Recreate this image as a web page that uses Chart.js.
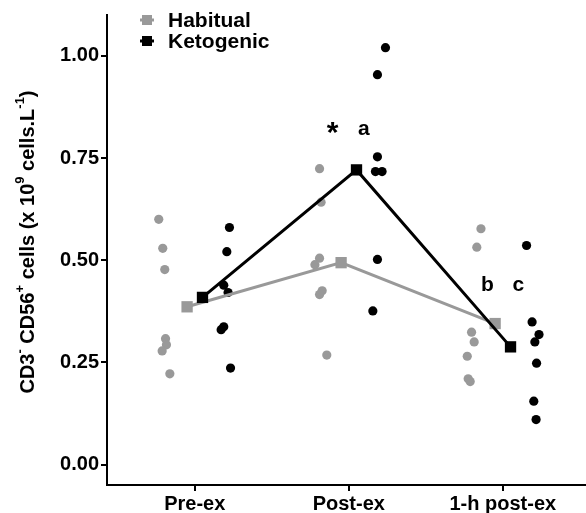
<!DOCTYPE html>
<html>
<head>
<meta charset="utf-8">
<script src="https://cdn.jsdelivr.net/npm/chart.js@4.4.1/dist/chart.umd.min.js"></script>
<style>
  body { margin: 0; background: #fff; }
  #wrap { width: 586px; height: 513px; position: relative; }
</style>
</head>
<body>
<div id="wrap"><canvas id="myChart"></canvas></div>
<script>
const categories = ["Pre-ex", "Post-ex", "1-h post-ex"]
const yTicks = [0, 0.25, 0.5, 0.75, 1.0]
const seriesNames = ["Habitual", "Ketogenic"]

// group means
const habitualMeans = [0.386, 0.494, 0.345]
const ketogenicMeans = [0.409, 0.721, 0.288]

// individual values per time point
const habitualPre = [0.600, 0.529, 0.477, 0.308, 0.293, 0.278, 0.222]
const habitualPost = [0.724, 0.642, 0.505, 0.489, 0.425, 0.416, 0.268]
const habitual1h = [0.577, 0.532, 0.324, 0.300, 0.265, 0.210, 0.203]
const ketogenicPre = [0.580, 0.521, 0.439, 0.421, 0.337, 0.330, 0.236]
const ketogenicPost = [1.020, 0.954, 0.753, 0.717, 0.717, 0.502, 0.376]
const ketogenic1h = [0.536, 0.349, 0.318, 0.300, 0.248, 0.155, 0.110]

// horizontal jitter of the individual points
const habitualJitter = [
    [-0.234, -0.208, -0.195, -0.19, -0.184, -0.212, -0.162],
    [-0.19, -0.18, -0.19, -0.22, -0.173, -0.19, -0.143],
    [-0.142, -0.169, -0.203, -0.186, -0.231, -0.225, -0.212]
]
const ketogenicJitter = [
    [0.225, 0.208, 0.188, 0.216, 0.188, 0.171, 0.232],
    [0.238, 0.186, 0.186, 0.173, 0.216, 0.186, 0.156],
    [0.154, 0.19, 0.235, 0.208, 0.219, 0.201, 0.216]
]

// significance marks: [text, category position, y value]
const marks = [["*", 1.894, 0.82], ["a", 2.097, 0.82], ["b", 2.90, 0.44], ["c", 3.10, 0.44]]

const GREY = "#999999"
const BLACK = "#000000"
const FONT = "'Liberation Sans', Arial, sans-serif"

const toPoints = (groups, jitter) => {
    let pts = []
    groups.forEach((vals, i) => {
        vals.forEach((v, j) => pts.push({x: i + 1 + jitter[i][j], y: v}))
    })
    return pts
}
const meanPoints = (means, dodge) => means.map((v, i) => ({x: i + 1 + dodge, y: v}))

const overlay = {
    id: "overlay",
    afterDraw(chart) {
        const ctx = chart.ctx
        const xs = chart.scales.x, ys = chart.scales.y
        ctx.save()

        // significance letters
        ctx.fillStyle = BLACK
        ctx.textAlign = "center"
        ctx.textBaseline = "middle"
        marks.forEach(m => {
            ctx.font = (m[0] == "*" ? "bold 30px " : "bold 21px ") + FONT
            ctx.fillText(m[0], xs.getPixelForValue(m[1]), ys.getPixelForValue(m[2]) + (m[0] == "*" ? 4 : 0))
        })

        // legend
        const colors = [GREY, BLACK]
        seriesNames.forEach((name, i) => {
            let cy = 20 + i * 21
            ctx.strokeStyle = colors[i]
            ctx.lineWidth = 3
            ctx.beginPath()
            ctx.moveTo(140, cy)
            ctx.lineTo(154, cy)
            ctx.stroke()
            ctx.fillStyle = colors[i]
            ctx.fillRect(142, cy - 5, 10, 10)
            ctx.fillStyle = BLACK
            ctx.font = "bold 21px " + FONT
            ctx.textAlign = "left"
            ctx.fillText(name, 168, cy + 1)
        })

        // y axis title with superscripts
        const parts = [["CD3", 0], ["-", 1], [" CD56", 0], ["+", 1], [" cells (x 10", 0], ["9", 1], [" cells.L", 0], ["-1", 1], [")", 0]]
        const big = "bold 20px " + FONT, small = "bold 13px " + FONT
        let total = 0
        parts.forEach(p => { ctx.font = p[1] ? small : big; total += ctx.measureText(p[0]).width })
        ctx.translate(28, 242)
        ctx.rotate(-Math.PI / 2)
        let px = -total / 2
        ctx.textAlign = "left"
        ctx.textBaseline = "middle"
        parts.forEach(p => {
            ctx.font = p[1] ? small : big
            ctx.fillText(p[0], px, p[1] ? -8 : 0)
            px += ctx.measureText(p[0]).width
        })
        ctx.restore()
    }
}

let chart = document.getElementById("myChart")
new Chart(chart, {
    type: "scatter",
    data: {
        datasets: [
            {
                label: seriesNames[1] + " mean",
                type: "line",
                data: meanPoints(ketogenicMeans, 0.05),
                borderColor: BLACK,
                backgroundColor: BLACK,
                borderWidth: 3,
                pointStyle: "rect",
                pointRadius: 8,
                pointBorderWidth: 0,
                lineTension: 0,
                fill: false,
                order: 0
            },
            {
                label: seriesNames[0] + " mean",
                type: "line",
                data: meanPoints(habitualMeans, -0.05),
                borderColor: GREY,
                backgroundColor: GREY,
                borderWidth: 3,
                pointStyle: "rect",
                pointRadius: 8,
                pointBorderWidth: 0,
                lineTension: 0,
                fill: false,
                order: 1
            },
            {
                label: seriesNames[1],
                data: toPoints([ketogenicPre, ketogenicPost, ketogenic1h], ketogenicJitter),
                backgroundColor: BLACK,
                borderWidth: 0,
                pointRadius: 4.6,
                order: 2
            },
            {
                label: seriesNames[0],
                data: toPoints([habitualPre, habitualPost, habitual1h], habitualJitter),
                backgroundColor: GREY,
                borderWidth: 0,
                pointRadius: 4.6,
                order: 3
            }
        ]
    },
    options: {
        responsive: true,
        maintainAspectRatio: false,
        animation: false,
        layout: {autoPadding: false, padding: {top: 15, right: 0, left: 0, bottom: 0}},
        plugins: {legend: {display: false}, tooltip: {enabled: false}},
        scales: {
            x: {
                type: "linear",
                min: 0.43,
                max: 3.54,
                afterFit: (s) => { s.height = 28; s.paddingLeft = 0; s.paddingRight = 0 },
                afterBuildTicks: (s) => { s.ticks = [1, 2, 3].map(v => ({value: v})) },
                grid: {drawOnChartArea: false, drawTicks: true, tickLength: 6, color: BLACK, lineWidth: 2},
                border: {display: true, color: BLACK, width: 2},
                ticks: {
                    color: BLACK,
                    padding: 1,
                    maxRotation: 0,
                    font: {family: FONT, size: 20, weight: "bold"},
                    callback: (v) => categories[Math.round(v) - 1]
                }
            },
            y: {
                min: -0.05,
                max: 1.10,
                afterFit: (s) => { s.width = 107; s.paddingTop = 0; s.paddingBottom = 0 },
                afterBuildTicks: (s) => { s.ticks = yTicks.map(v => ({value: v})) },
                grid: {drawOnChartArea: false, drawTicks: true, tickLength: 6, color: BLACK, lineWidth: 2},
                border: {display: true, color: BLACK, width: 2},
                ticks: {
                    color: BLACK,
                    padding: 2,
                    font: {family: FONT, size: 20, weight: "bold"},
                    callback: (v) => v.toFixed(2)
                }
            }
        }
    },
    plugins: [overlay]
})
</script>
</body>
</html>
